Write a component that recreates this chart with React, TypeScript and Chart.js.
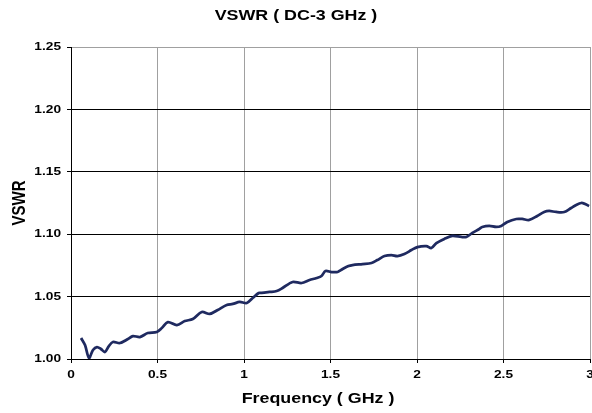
import { useEffect, useRef } from "react";
import { Chart, registerables } from "chart.js";

Chart.register(...registerables);

const chartTitle = "VSWR ( DC-3 GHz )";
const xAxisTitle = "Frequency ( GHz )";
const yAxisTitle = "VSWR";
const xTickLabels = ["0", "0.5", "1", "1.5", "2", "2.5", "3"];
const yTickLabels = ["1.00", "1.05", "1.10", "1.15", "1.20", "1.25"];

const frequencyGHz = [
  0.058, 0.081, 0.104, 0.127, 0.15, 0.173, 0.196, 0.219, 0.242, 0.283,
  0.329, 0.358, 0.398, 0.444, 0.496, 0.525, 0.56, 0.612, 0.658, 0.704,
  0.756, 0.802, 0.848, 0.9, 0.935, 0.975, 1.016, 1.05, 1.085, 1.102,
  1.148, 1.189, 1.223, 1.281, 1.333, 1.379, 1.42, 1.448, 1.471, 1.506,
  1.541, 1.57, 1.604, 1.627, 1.685, 1.737, 1.771, 1.812, 1.852, 1.887,
  1.927, 1.968, 2.002, 2.054, 2.083, 2.112, 2.158, 2.204, 2.256, 2.285,
  2.32, 2.36, 2.377, 2.418, 2.458, 2.487, 2.522, 2.574, 2.608, 2.649,
  2.695, 2.735, 2.764, 2.804, 2.851, 2.891, 2.92, 2.949, 2.972, 2.995,
];

const vswr = [
  1.0168, 1.0112, 1.0008, 1.0072, 1.0096, 1.008, 1.0056, 1.0104, 1.0136, 1.0128,
  1.016, 1.0184, 1.0176, 1.0208, 1.0216, 1.0248, 1.0296, 1.0272, 1.0304, 1.032,
  1.0377, 1.0361, 1.0393, 1.0433, 1.0441, 1.0457, 1.0449, 1.0489, 1.0529, 1.0529,
  1.0537, 1.0545, 1.0569, 1.0617, 1.0609, 1.0633, 1.0649, 1.0665, 1.0705, 1.0697,
  1.0697, 1.0721, 1.0745, 1.0753, 1.0761, 1.0769, 1.0793, 1.0825, 1.0833, 1.0825,
  1.0841, 1.0873, 1.0897, 1.0905, 1.0889, 1.0929, 1.0962, 1.0986, 1.0978, 1.0978,
  1.101, 1.1042, 1.1058, 1.1066, 1.1058, 1.1066, 1.1098, 1.1122, 1.1122, 1.1114,
  1.1146, 1.1178, 1.1186, 1.1178, 1.1178, 1.121, 1.1234, 1.125, 1.1242, 1.1226,
];

const FONT = "'Liberation Sans', Arial, sans-serif";
const STRETCH = 1.19;

function drawStretched(
  ctx: CanvasRenderingContext2D,
  text: string,
  x: number,
  y: number,
  align: CanvasTextAlign
) {
  ctx.save();
  ctx.translate(x, y);
  ctx.scale(STRETCH, 1);
  ctx.textAlign = align;
  ctx.fillText(text, 0, 0);
  ctx.restore();
}

export default function App() {
  const canvasRef = useRef<HTMLCanvasElement | null>(null);

  useEffect(() => {
    const canvas = canvasRef.current;
    if (!canvas) return;

    const textPlugin = {
      id: "textPlugin",
      afterDraw(chart: any) {
        const ctx = chart.ctx as CanvasRenderingContext2D;
        const a = chart.chartArea;
        const xs = chart.scales.x;
        const ys = chart.scales.y;
        ctx.save();
        ctx.fillStyle = "#000";
        ctx.textBaseline = "middle";

        ctx.font = `bold 11.5px ${FONT}`;
        xs.ticks.forEach((t: any, i: number) => {
          drawStretched(ctx, xTickLabels[i], xs.getPixelForValue(t.value), 375, "center");
        });
        ys.ticks.forEach((t: any, i: number) => {
          drawStretched(ctx, yTickLabels[i], 61, ys.getPixelForValue(t.value), "right");
        });

        ctx.font = `bold 15px ${FONT}`;
        drawStretched(ctx, chartTitle, chart.width / 2, 16, "center");
        drawStretched(ctx, xAxisTitle, 318, 399, "center");

        ctx.save();
        ctx.translate(20, (a.top + a.bottom) / 2);
        ctx.scale(STRETCH, 1);
        ctx.rotate(-Math.PI / 2);
        ctx.textAlign = "center";
        ctx.fillText(yAxisTitle, 0, 0);
        ctx.restore();

        ctx.restore();
      },
    };

    const chart = new Chart(canvas, {
      type: "line",
      data: {
        datasets: [
          {
            data: frequencyGHz.map((f, i) => ({ x: f, y: vswr[i] })),
            borderColor: "#1f2a60",
            borderWidth: 2.75,
            pointRadius: 0,
            tension: 0.3,
            fill: false,
          },
        ],
      },
      options: {
        responsive: false,
        animation: false,
        layout: { padding: { top: 47, right: 2, left: 0, bottom: 0 } },
        plugins: {
          legend: { display: false },
          title: { display: false },
          tooltip: { enabled: false },
        },
        scales: {
          x: {
            type: "linear",
            min: 0,
            max: 3,
            afterFit: (scale: any) => {
              scale.height = 54;
              scale.paddingLeft = 0;
              scale.paddingRight = 0;
            },
            ticks: {
              display: false,
              stepSize: 0.5,
              autoSkip: false,
              maxRotation: 0,
            },
            grid: {
              color: "#a0a0a0",
              lineWidth: 1,
              tickLength: 4,
              tickColor: "#000",
            },
            border: { color: "#000", width: 1 },
          },
          y: {
            type: "linear",
            min: 1,
            max: 1.25,
            afterFit: (scale: any) => {
              scale.width = 71;
              scale.paddingTop = 0;
              scale.paddingBottom = 0;
            },
            ticks: {
              display: false,
              stepSize: 0.05,
              autoSkip: false,
            },
            grid: {
              color: (c: any) =>
                Math.abs(c.tick.value - 1.25) < 1e-6 ? "#a0a0a0" : "#000",
              lineWidth: 1,
              tickLength: 4,
              tickColor: "#000",
            },
            border: { color: "#000", width: 1 },
          },
        },
      },
      plugins: [textPlugin],
    });

    return () => chart.destroy();
  }, []);

  return (
    <div style={{ position: "absolute", left: 0, top: 0, width: 592, height: 413, background: "#fff" }}>
      <canvas ref={canvasRef} width={592} height={413} />
    </div>
  );
}
